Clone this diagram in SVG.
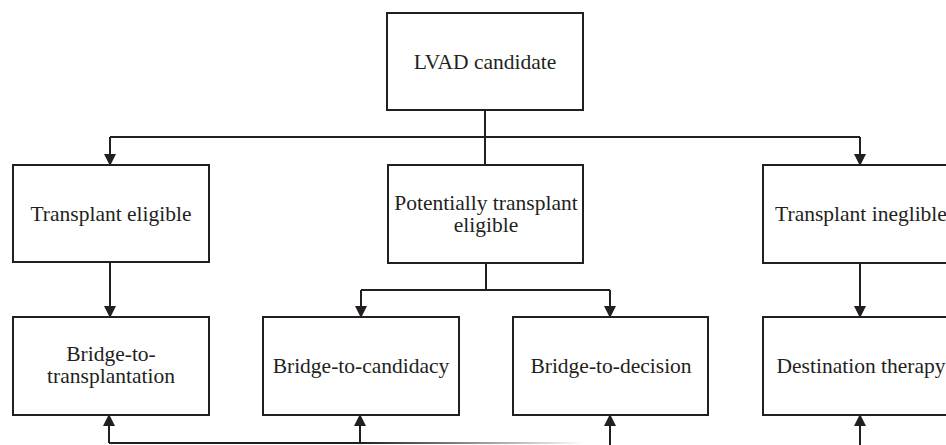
<svg xmlns="http://www.w3.org/2000/svg" width="946" height="445" viewBox="0 0 946 445">
<style>
.box{fill:#fff;stroke:#231f20;stroke-width:2}
.lbl{font-family:"Liberation Serif","Times New Roman",serif;font-size:21.5px;fill:#231f20;text-anchor:middle}
.ln{fill:none;stroke:#231f20;stroke-width:2}
.ar{fill:none;stroke:#231f20;stroke-width:2;marker-end:url(#ah)}
</style>
<defs>
<marker id="ah" markerUnits="userSpaceOnUse" markerWidth="12" markerHeight="12" refX="11" refY="6" orient="auto">
<path d="M0,0 L12,6 L0,12 z" fill="#231f20"/>
</marker>
<linearGradient id="fade" gradientUnits="userSpaceOnUse" x1="360" y1="0" x2="585" y2="0">
<stop offset="0" stop-color="#231f20"/>
<stop offset="1" stop-color="#231f20" stop-opacity="0"/>
</linearGradient>
</defs>
<rect width="946" height="445" fill="#fff"/>
<g id="connectors">
<path class="ln" d="M485,110 V165"/>
<path class="ln" d="M110,137 H860"/>
<path class="ar" d="M110,137 V165"/>
<path class="ar" d="M860,137 V165"/>
<path class="ar" d="M110,262 V317"/>
<path class="ar" d="M860,263 V317"/>
<path class="ln" d="M486,263 V290"/>
<path class="ln" d="M361,290 H610"/>
<path class="ar" d="M361,290 V317"/>
<path class="ar" d="M610,290 V317"/>
<path d="M109,443 H590" fill="none" stroke="url(#fade)" stroke-width="2"/>
<path class="ln" d="M109,443 H360"/>
<path class="ar" d="M109,443 V415"/>
<path class="ar" d="M360,443 V415"/>
<path class="ar" d="M610,446 V415"/>
<path class="ar" d="M860,446 V415"/>
</g>
<g id="lvad"><rect class="box" x="387" y="13" width="196" height="97"/><text class="lbl" x="485" y="69">LVAD candidate</text></g>
<g id="te"><rect class="box" x="13" y="165" width="196" height="97"/><text class="lbl" x="111" y="221">Transplant eligible</text></g>
<g id="pte"><rect class="box" x="388" y="165" width="195" height="98"/><text class="lbl" x="486" y="210">Potentially transplant</text><text class="lbl" x="486" y="232">eligible</text></g>
<g id="ti"><rect class="box" x="763" y="165" width="196" height="98"/><text class="lbl" x="861" y="221">Transplant ineglible</text></g>
<g id="btt"><rect class="box" x="13" y="317" width="196" height="98"/><text class="lbl" x="111" y="361">Bridge-to-</text><text class="lbl" x="111" y="383">transplantation</text></g>
<g id="btc"><rect class="box" x="263" y="317" width="196" height="98"/><text class="lbl" x="361" y="373">Bridge-to-candidacy</text></g>
<g id="btd"><rect class="box" x="513" y="317" width="195" height="98"/><text class="lbl" x="611" y="373">Bridge-to-decision</text></g>
<g id="dt"><rect class="box" x="763" y="317" width="196" height="98"/><text class="lbl" x="861" y="373">Destination therapy</text></g>
</svg>
